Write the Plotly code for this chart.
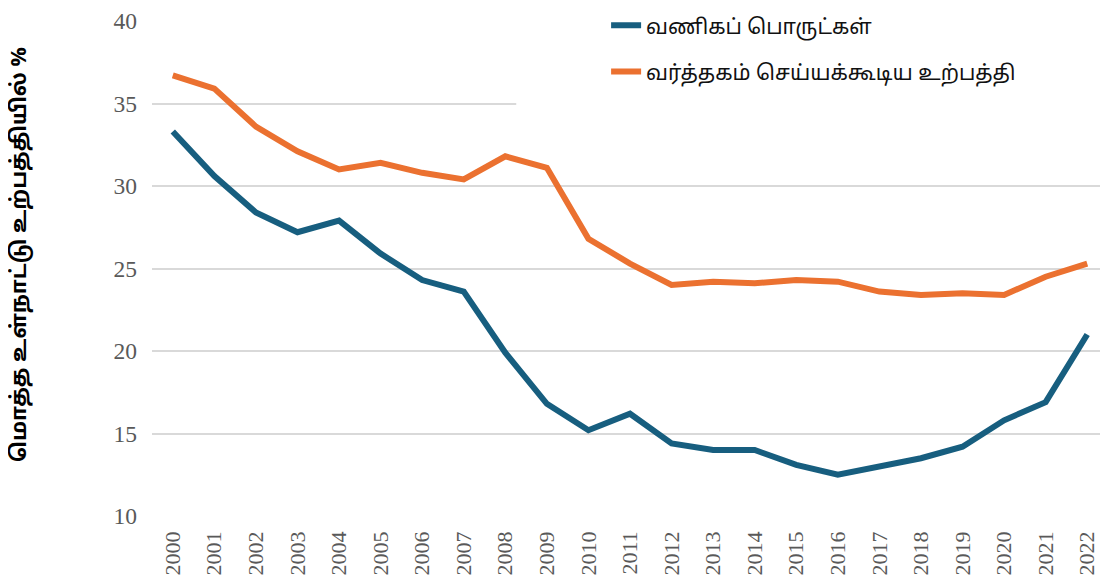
import plotly.graph_objects as go

years = [str(y) for y in range(2000, 2023)]
goods = [33.3, 30.6, 28.4, 27.2, 27.9, 25.9, 24.3, 23.6, 19.9, 16.8, 15.2, 16.2,
         14.4, 14.0, 14.0, 13.1, 12.5, 13.0, 13.5, 14.2, 15.8, 16.9, 21.0]
tradable = [36.7, 35.9, 33.6, 32.1, 31.0, 31.4, 30.8, 30.4, 31.8, 31.1, 26.8, 25.3,
            24.0, 24.2, 24.1, 24.3, 24.2, 23.6, 23.4, 23.5, 23.4, 24.5, 25.3]
name_goods = "வணிகப் பொருட்கள்"
name_trad = "வர்த்தகம் செய்யக்கூடிய உற்பத்தி"
y_title = "மொத்த உள்நாட்டு உற்பத்தியில் %"

tamil = "Noto Sans Tamil, Noto Sans, DejaVu Sans, sans-serif"
serif = "Liberation Serif"

fig = go.Figure()
fig.add_trace(go.Scatter(x=years, y=goods, mode="lines", name=name_goods,
                         legendgroup="a",
                         line=dict(color="#175E7F", width=6)))
fig.add_trace(go.Scatter(x=years, y=tradable, mode="lines", name=name_trad,
                         legendgroup="b",
                         line=dict(color="#EB7130", width=6)))

# white band behind the legend hiding the upper gridlines
fig.add_shape(type="rect", xref="paper", yref="paper", x0=0.381, x1=1.0, y0=0.82, y1=1.05,
              fillcolor="white", line=dict(width=0), layer="above")

# y-axis title
fig.add_annotation(text=y_title, textangle=-90, xref="paper", yref="paper",
                   x=-0.138, y=0.527, xanchor="center", yanchor="middle", showarrow=False,
                   font=dict(family=tamil, size=21.5, color="black", weight="bold"))

fig.update_layout(
    width=1100, height=573,
    margin=dict(l=144, r=0, t=13, b=65, autoexpand=False),
    plot_bgcolor="white", paper_bgcolor="white",
    showlegend=True,
    legend=dict(x=0.475, y=1.032, xanchor="left", yanchor="top", yref="paper",
                bgcolor="rgba(0,0,0,0)", font=dict(family=tamil, size=21, color="#111"),
                tracegroupgap=16),
    xaxis=dict(type="category", range=[-0.5, 22.5], tickangle=-90,
               tickfont=dict(family=serif, size=22, color="#595959"),
               ticklabelstandoff=10,
               showgrid=False, showline=False, ticks="", automargin=False),
    yaxis=dict(range=[10, 40], dtick=5, showgrid=True, gridcolor="#D9D9D9", gridwidth=1.5,
               zeroline=False, ticks="", automargin=False, ticklabelstandoff=14,
               tickfont=dict(family=serif, size=23.5, color="#595959")),
)
fig.write_html("out.html")
